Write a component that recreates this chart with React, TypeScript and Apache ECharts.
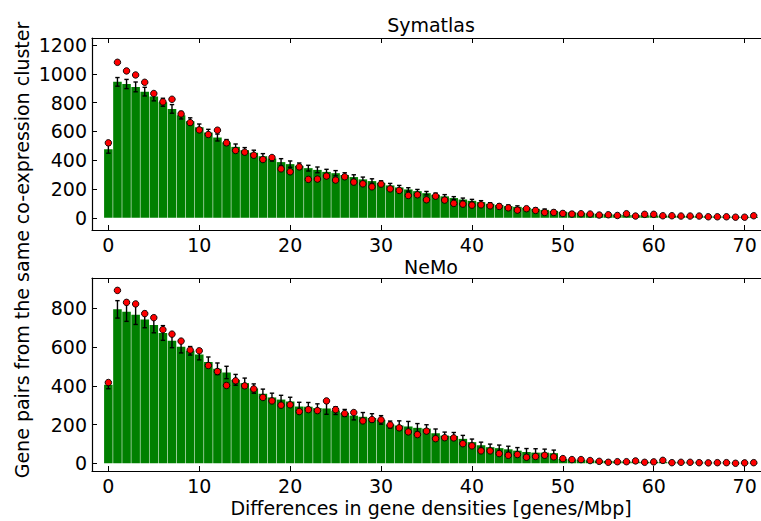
import React, { useEffect, useRef } from "react";
import * as echarts from "echarts";

const xTicks = [0, 10, 20, 30, 40, 50, 60, 70];
const topYTicks = [0, 200, 400, 600, 800, 1000, 1200];
const botYTicks = [0, 200, 400, 600, 800];

const symBars = [477, 945, 930, 910, 877, 843, 803, 757, 713, 671, 630, 593, 558, 524, 493, 470, 452, 428, 412, 387, 373, 361, 345, 333, 319, 310, 297, 283, 267, 255, 243, 225, 211, 197, 185, 171, 160, 149, 137, 127, 118, 109, 97, 88, 81, 76, 69, 62, 55, 48, 42, 38, 34, 30, 27, 24, 22, 20, 18, 17, 16, 15, 14, 13, 12, 11, 10, 9, 8, 7, 6, 5];
const symErr = [28, 30, 32, 34, 30, 30, 28, 30, 26, 24, 22, 22, 24, 20, 20, 18, 18, 18, 18, 24, 22, 20, 20, 20, 18, 18, 16, 16, 16, 16, 14, 14, 14, 12, 12, 12, 12, 12, 10, 10, 10, 10, 8, 8, 8, 7, 7, 6, 6, 5, 4, 4, 4, 4, 3, 3, 3, 3, 3, 3, 3, 2, 2, 2, 2, 2, 2, 2, 2, 2, 2, 2];
const symDots = [521, 1081, 1021, 993, 942, 864, 806, 824, 722, 662, 611, 579, 609, 521, 468, 456, 435, 405, 419, 340, 320, 354, 267, 269, 290, 262, 285, 248, 236, 215, 234, 201, 190, 155, 160, 125, 150, 123, 100, 95, 88, 90, 83, 79, 69, 53, 63, 51, 37, 37, 30, 26, 28, 26, 19, 21, 16, 28, 12, 24, 24, 14, 14, 12, 12, 12, 7, 7, 7, 4, 4, 14];

const nemoBars = [405, 795, 783, 767, 742, 714, 673, 633, 602, 581, 562, 523, 488, 469, 431, 414, 386, 359, 340, 329, 319, 293, 292, 285, 283, 272, 260, 246, 240, 234, 224, 200, 195, 190, 183, 179, 155, 143, 141, 126, 109, 93, 83, 78, 72, 65, 58, 55, 55, 52, 22, 20, 18, 15, 13, 12, 10, 9, 8, 7, 7, 6, 5, 5, 4, 4, 3, 3, 3, 2, 2, 2];
const nemoErr = [20, 45, 50, 50, 42, 40, 38, 36, 32, 22, 28, 26, 30, 32, 28, 26, 24, 24, 22, 22, 22, 22, 22, 22, 30, 20, 18, 22, 22, 22, 22, 18, 24, 26, 22, 20, 22, 18, 18, 18, 16, 16, 16, 16, 16, 16, 18, 20, 18, 16, 4, 4, 4, 4, 3, 3, 3, 3, 3, 3, 3, 2, 2, 2, 2, 2, 2, 2, 2, 2, 2, 2];
const nemoDots = [417, 893, 831, 823, 773, 752, 690, 667, 631, 585, 581, 505, 474, 402, 426, 400, 384, 340, 322, 300, 302, 267, 277, 272, 322, 277, 257, 262, 219, 226, 224, 198, 183, 162, 148, 166, 127, 132, 131, 101, 90, 64, 64, 50, 41, 45, 31, 35, 41, 33, 24, 19, 19, 14, 10, 5, 8, 8, 12, 5, 7, 15, 3, 5, 5, 3, 2, 3, 3, 0, 2, 3];

const FONT = "DejaVu Sans";
const FS = 19;

function barSeries(vals: number[], idx: number) {
  return {
    type: "custom",
    xAxisIndex: idx * 2,
    yAxisIndex: idx,
    data: vals.map((v, i) => [i, v]),
    z: 2,
    renderItem: (params: any, api: any) => {
      const x = api.value(0);
      const v = api.value(1);
      const p1 = api.coord([x - 0.47, v]);
      const p2 = api.coord([x + 0.47, 0]);
      return {
        type: "rect",
        shape: { x: p1[0], y: p1[1], width: p2[0] - p1[0], height: p2[1] - p1[1] },
        style: { fill: "#008000" },
      };
    },
  };
}

function errSeries(vals: number[], errs: number[], idx: number) {
  return {
    type: "custom",
    xAxisIndex: idx * 2,
    yAxisIndex: idx,
    data: vals.map((v, i) => [i, v, errs[i]]),
    z: 3,
    renderItem: (params: any, api: any) => {
      const x = api.value(0);
      const v = api.value(1);
      const e = api.value(2);
      const top = api.coord([x, v + e]);
      const bot = api.coord([x, v - e]);
      const st = { stroke: "#000", lineWidth: 1.4 };
      return {
        type: "group",
        children: [
          { type: "line", shape: { x1: top[0], y1: top[1], x2: bot[0], y2: bot[1] }, style: st },
          { type: "line", shape: { x1: top[0] - 2.2, y1: top[1], x2: top[0] + 2.2, y2: top[1] }, style: st },
          { type: "line", shape: { x1: bot[0] - 2.2, y1: bot[1], x2: bot[0] + 2.2, y2: bot[1] }, style: st },
        ],
      };
    },
  };
}

function dotSeries(vals: number[], idx: number) {
  return {
    type: "scatter",
    xAxisIndex: idx * 2,
    yAxisIndex: idx,
    data: vals.map((v, i) => [i, v]),
    symbolSize: 6.5,
    z: 4,
    itemStyle: { color: "#ff0000", borderColor: "#000", borderWidth: 0.9, opacity: 1 },
  };
}

function xAxisPair(gridIndex: number) {
  const base = {
    type: "value",
    gridIndex,
    min: -1.8,
    max: 71.8,
    splitLine: { show: false },
    axisLine: { show: true, onZero: false, lineStyle: { color: "#000", width: 1.2 } },
    axisTick: { show: true, inside: true, length: 5, customValues: xTicks, lineStyle: { color: "#000", width: 1 } },
  };
  return [
    {
      ...base,
      position: "bottom",
      axisLabel: { show: true, customValues: xTicks, formatter: (v: number) => String(v), color: "#000", fontFamily: FONT, fontSize: FS, margin: 5 },
    },
    {
      ...base,
      position: "top",
      axisLabel: { show: false },
    },
  ];
}

function yAxis(gridIndex: number, min: number, max: number, ticks: number[]) {
  return {
    type: "value",
    gridIndex,
    min,
    max,
    splitLine: { show: false },
    axisLine: { show: true, onZero: false, lineStyle: { color: "#000", width: 1.2 } },
    axisTick: { show: true, inside: true, length: 5, customValues: ticks, lineStyle: { color: "#000", width: 1 } },
    axisLabel: { show: true, customValues: ticks, formatter: (v: number) => String(v), color: "#000", fontFamily: FONT, fontSize: FS, margin: 5 },
  };
}

export default function App() {
  const ref = useRef<HTMLDivElement>(null);
  useEffect(() => {
    if (!ref.current) return;
    const chart = echarts.init(ref.current, null, { renderer: "svg" });
    chart.setOption({
      animation: false,
      backgroundColor: "#fff",
      title: [
        { text: "Symatlas", left: 426, top: 10, textAlign: "center", textStyle: { fontFamily: FONT, fontSize: FS, fontWeight: "normal", color: "#000" } },
        { text: "NeMo", left: 426, top: 252, textAlign: "center", textStyle: { fontFamily: FONT, fontSize: FS, fontWeight: "normal", color: "#000" } },
      ],
      grid: [
        { left: 92, top: 38, width: 669, height: 192 },
        { left: 92, top: 278, width: 669, height: 193 },
      ],
      xAxis: [...xAxisPair(0), ...xAxisPair(1)],
      yAxis: [yAxis(0, -85, 1250, topYTicks), yAxis(1, -40, 957, botYTicks)],
      graphic: [
        {
          type: "text",
          x: 22,
          y: 250,
          rotation: Math.PI / 2,
          style: { text: "Gene pairs from the same co-expression cluster", font: `${FS}px ${FONT}`, fill: "#000", align: "center", verticalAlign: "middle" },
        },
        {
          type: "text",
          x: 431,
          y: 508,
          style: { text: "Differences in gene densities [genes/Mbp]", font: `${FS}px ${FONT}`, fill: "#000", align: "center", verticalAlign: "middle" },
        },
      ],
      series: [
        barSeries(symBars, 0),
        errSeries(symBars, symErr, 0),
        dotSeries(symDots, 0),
        barSeries(nemoBars, 1),
        errSeries(nemoBars, nemoErr, 1),
        dotSeries(nemoDots, 1),
      ],
    });
    return () => chart.dispose();
  }, []);
  return <div ref={ref} style={{ position: "absolute", left: 0, top: 0, width: 761, height: 521 }} />;
}
